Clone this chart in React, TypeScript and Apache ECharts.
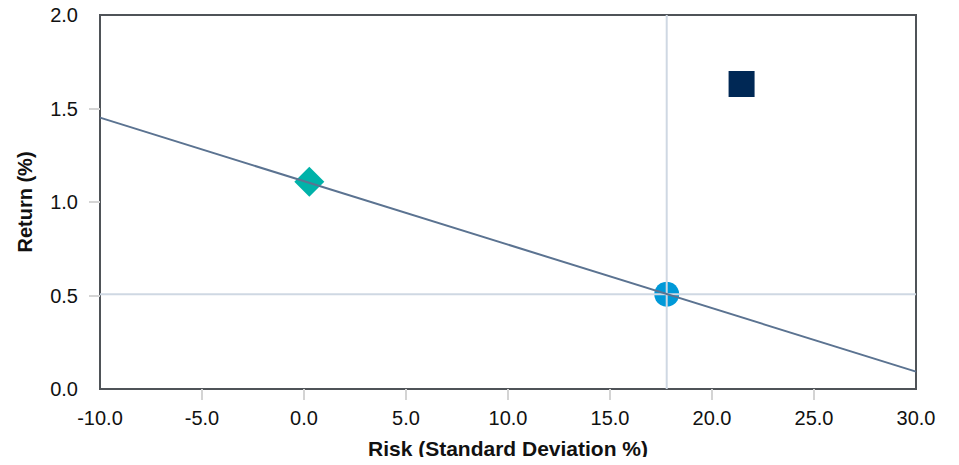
import React, { useEffect, useRef } from "react";
import * as echarts from "echarts";

// Axis ranges and ticks
const xTicks = [-10, -5, 0, 5, 10, 15, 20, 25, 30];
const yTicks = [0, 0.5, 1.0, 1.5, 2.0];

// Portfolio points: [risk %, return %]
const diamondPoint = [0.26, 1.108];
const circlePoint = [17.78, 0.507];
const squarePoint = [21.45, 1.631];

// Fitted line end points: [risk %, return %]
const fitLine = [
  [-10, 1.451],
  [30, 0.093],
];

const FONT = "'Liberation Sans', Arial, Helvetica, sans-serif";

export default function App() {
  const ref = useRef<HTMLDivElement>(null);

  useEffect(() => {
    if (!ref.current) return;
    const chart = echarts.init(ref.current, null, { renderer: "svg" });
    const xMin = xTicks[0];
    const xMax = xTicks[xTicks.length - 1];
    const yMin = yTicks[0];
    const yMax = yTicks[yTicks.length - 1];

    chart.setOption({
      animation: false,
      backgroundColor: "#ffffff",
      grid: {
        left: 100,
        right: 43,
        top: 15,
        bottom: 76,
        show: true,
        borderColor: "#4f5358",
        borderWidth: 2,
        backgroundColor: "transparent",
      },
      xAxis: {
        type: "value",
        min: xMin,
        max: xMax,
        interval: 5,
        name: "Risk (Standard Deviation %)",
        nameLocation: "middle",
        nameGap: 49,
        nameTextStyle: { fontFamily: FONT, fontSize: 21, fontWeight: "bold", color: "#111111" },
        axisLine: { show: true, onZero: false, lineStyle: { color: "#4f5358", width: 2 } },
        axisTick: {
          show: true,
          length: 11,
          customValues: xTicks.slice(1, -1),
          lineStyle: { color: "#d4d4d4", width: 2 },
        },
        axisLabel: {
          margin: 19,
          fontFamily: FONT,
          fontSize: 20,
          color: "#111111",
          formatter: (v: number) => v.toFixed(1),
        },
        splitLine: { show: false },
      },
      yAxis: {
        type: "value",
        min: yMin,
        max: yMax,
        interval: 0.5,
        name: "Return (%)",
        nameLocation: "middle",
        nameGap: 65,
        nameTextStyle: { fontFamily: FONT, fontSize: 20, fontWeight: "bold", color: "#111111" },
        axisLine: { show: true, onZero: false, lineStyle: { color: "#4f5358", width: 2 } },
        axisTick: {
          show: true,
          length: 11,
          customValues: yTicks.slice(1, -1),
          lineStyle: { color: "#d4d4d4", width: 2 },
        },
        axisLabel: {
          margin: 22,
          fontFamily: FONT,
          fontSize: 20,
          color: "#111111",
          formatter: (v: number) => v.toFixed(1),
        },
        splitLine: { show: false },
      },
      series: [
        {
          type: "scatter",
          z: 2,
          symbol: "diamond",
          symbolSize: 30,
          itemStyle: { color: "#00b2a9", opacity: 1 },
          data: [diamondPoint],
        },
        {
          type: "scatter",
          z: 2,
          symbol: "circle",
          symbolSize: 25,
          itemStyle: { color: "#0099d8", opacity: 1 },
          data: [circlePoint],
        },
        {
          type: "scatter",
          z: 2,
          symbol: "rect",
          symbolSize: 26,
          itemStyle: { color: "#002855", opacity: 1 },
          data: [squarePoint],
        },
        // Crosshair through the circle marker
        {
          type: "line",
          z: 3,
          symbol: "none",
          silent: true,
          lineStyle: { color: "#cfd8e3", width: 2 },
          data: [
            [circlePoint[0], yMin],
            [circlePoint[0], yMax],
          ],
        },
        {
          type: "line",
          z: 3,
          symbol: "none",
          silent: true,
          lineStyle: { color: "#cfd8e3", width: 2 },
          data: [
            [xMin, circlePoint[1]],
            [xMax, circlePoint[1]],
          ],
        },
        {
          type: "line",
          z: 4,
          symbol: "none",
          silent: true,
          lineStyle: { color: "#5b7391", width: 2 },
          data: fitLine,
        },
      ],
    });

    return () => chart.dispose();
  }, []);

  return <div ref={ref} style={{ width: 959, height: 465, margin: -8 }} />;
}
